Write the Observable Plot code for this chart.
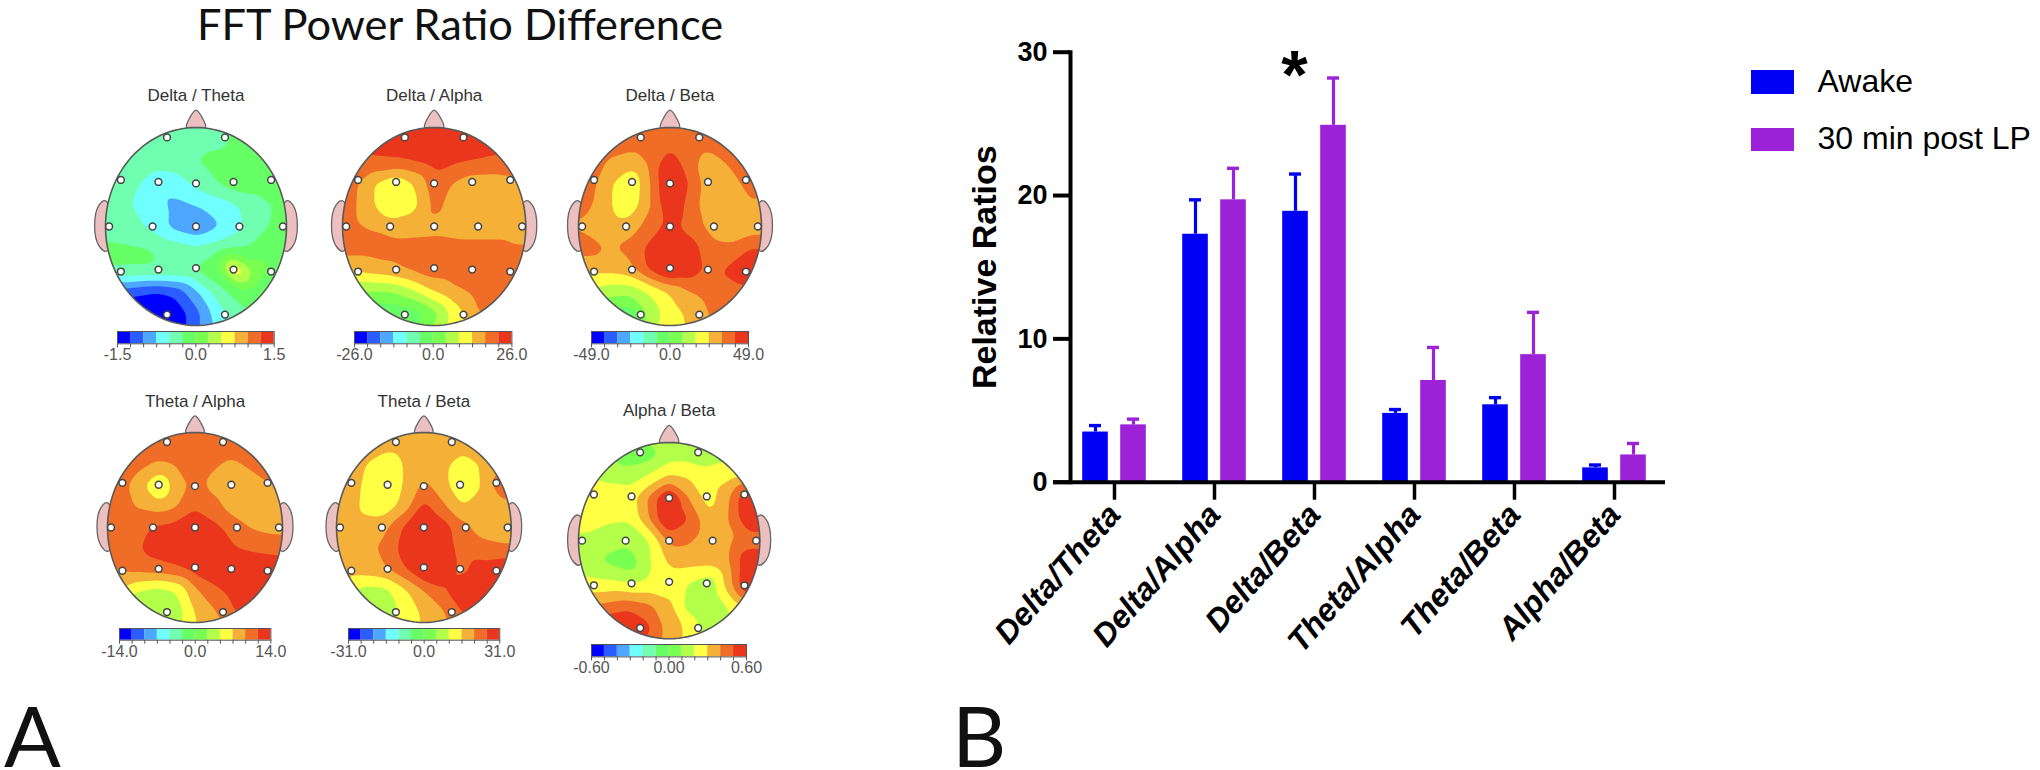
<!DOCTYPE html>
<html>
<head>
<meta charset="utf-8">
<script src="https://cdn.jsdelivr.net/npm/d3@7"></script>
<script src="https://cdn.jsdelivr.net/npm/@observablehq/plot@0.6"></script>
<style>
  html,body{margin:0;padding:0;background:#fff;}
  #page{position:relative;width:2040px;height:770px;overflow:hidden;background:#fff;}
  #page>*{position:absolute;}
  .big{font-family:Lato,sans-serif;color:#111;white-space:nowrap;line-height:.8;}
  .lg{font-family:"Liberation Sans",Arial,sans-serif;font-size:32px;line-height:1;color:#000;white-space:nowrap;}
</style>
</head>
<body>
<div id="page"></div>
<script>
// ---------- Panel B values ----------
const categories = ["Delta/Theta","Delta/Alpha","Delta/Beta","Theta/Alpha","Theta/Beta","Alpha/Beta"];
const awakeMean  = [3.5, 17.3, 18.9, 4.8, 5.4, 1.0];
const awakeTop   = [3.95, 19.7, 21.5, 5.07, 5.9, 1.2];
const postLpMean = [4.0, 19.7, 24.9, 7.1, 8.9, 1.9];
const postLpTop  = [4.4, 21.9, 28.2, 9.4, 11.85, 2.7];
const yTicks = [0, 10, 20, 30];
const seriesNames = ["Awake", "30 min post LP"];
const seriesColors = ["#0000f5", "#9b22d6"];

// ---------- Panel A values: levels on an 11 x 11 grid (top row first) ----------
const bandColors = ["#0000ff","#2a5cff","#4da6ff","#70ffff","#70ffb0","#66ff66","#78ff50","#b4ff4a","#ffff44","#f5b038","#ef6d26","#ea361c"];
const levelEdges = [-6,-5,-4,-3,-2,-1,0,1,2,3,4,5];
const gridAxis = [-1.1,-.88,-.66,-.44,-.22,0,.22,.44,.66,.88,1.1];
const electrodeX = [-.32,.32,-.83,-.415,0,.415,.83,-.96,-.48,0,.48,.96,-.83,-.415,0,.415,.83,-.32,.32];
const electrodeY = [.9,.9,.47,.45,.435,.45,.47,0,0,0,0,0,-.455,-.435,-.42,-.435,-.455,-.89,-.89];
const noseX = [-.105,-.068,0,.068,.105,0];
const noseY = [1,1.1,1.175,1.1,1,.95];
const earX = [1,1.075,1.12,1.075,.99,.9];
const earY = [.26,.21,0,-.19,-.25,0];

const deltaTheta = [
[-1.5,-1.5,-1.5,-1.5,-1.5,-1.5,-1.5,-1.2,-.8,-.7,-.7],
[-1.5,-1.5,-1.5,-1.5,-1.5,-1.5,-1.4,-.8,-.6,-.6,-.6],
[-1.5,-1.5,-1.5,-1.5,-1.5,-1.0,-.6,-.5,-.5,-.5,-.5],
[-1.5,-1.6,-1.8,-2.8,-2.5,-1.7,-1.0,-.4,-.5,-.6,-.6],
[-1.5,-1.6,-2.1,-2.8,-3.2,-3.0,-2.6,-2.1,-1.5,-.9,-.8],
[-1.5,-1.5,-1.7,-2.5,-3.4,-3.9,-3.2,-2.4,-1.4,-.8,-.7],
[-.8,-.8,-.9,-1.0,-1.4,-1.8,-1.4,-1.0,-.7,-.5,-.5],
[-1,-1,-1,-1,-1,-.9,-.2,3.2,.6,-.4,-.5],
[-4.5,-4.5,-4.8,-5.1,-4.7,-3.2,-1.6,-.6,-.4,-.5,-.5],
[-6,-6,-6,-6,-5.7,-4.4,-2.6,-1.4,-.8,-.5,-.5],
[-6,-6,-6,-6,-5.5,-4.3,-3,-2,-1,-.5,-.5]];
const deltaAlpha = [
[5.6,5.6,5.6,5.6,5.6,5.6,5.6,5.6,5.6,5.6,5.6],
[5.6,5.6,5.6,5.6,5.6,5.6,5.6,5.6,5.6,5.6,5.6],
[4.6,4.6,4.8,4.9,5.1,5.4,5.2,5.0,4.8,4.5,4.5],
[4.3,4.3,3.0,2.2,3.0,4.6,3.9,3.4,3.4,3.7,3.7],
[4.4,4.2,3.0,2.0,2.6,4.3,3.6,3.3,3.2,3.2,3.4],
[4.3,4.2,3.9,3.5,3.6,3.7,3.5,3.4,3.4,3.5,3.5],
[4.4,4.4,4.4,4.4,4.4,4.4,4.4,4.4,4.4,4.1,4.1],
[3.2,3.2,3.5,3.7,4.2,4.6,4.6,4.6,4.6,4.6,4.6],
[1.0,1.0,.9,1.0,1.8,3.0,3.8,4.2,4.5,4.5,4.5],
[-.6,-.6,-.6,-.8,-.6,.6,2.4,3.9,4.2,4.4,4.4],
[-.5,-.5,-.5,-.5,-.2,1.3,2.5,3.4,4,4.3,4.3]];
const deltaBeta = [
[4.5,4.5,4.5,4.5,4.5,4.5,4.5,4.5,4.5,4.5,4.5],
[4.5,4.5,4.5,4.5,4.5,4.5,4.5,4.5,4.5,4.5,4.5],
[4.5,4.5,3.9,3.6,4.2,5.7,4.3,3.6,4.2,4.5,4.5],
[4.4,4.4,3.2,2.0,3.9,6.3,4.9,3.3,3.6,4.4,4.4],
[4.2,4.2,3.1,2.2,3.9,5.9,4.6,3.2,3.3,3.9,3.6],
[4.0,3.7,3.4,3.5,4.4,5.4,4.5,3.7,3.4,3.4,3.4],
[4.4,4.4,3.9,4.3,5.3,6.3,5.6,4.3,4.2,5.0,5.0],
[3.3,3.3,3.3,3.6,5.2,6.3,5.8,4.6,5.3,6.2,5.5],
[2.0,2.0,1.4,1.3,2.1,3.1,4.0,4.4,4.4,4.5,4.5],
[-.3,-.3,-.3,-.9,1.3,2.5,3.2,4.1,4.4,4.5,4.5],
[0,0,0,0,1.8,2.6,3.0,4,4.4,4.5,4.5]];
const thetaAlpha = [
[4.5,4.5,4.5,4.5,4.5,4.5,4.5,4.5,4.5,4.5,4.5],
[4.5,4.5,4.5,4.5,4.5,4.5,4.5,4.5,4.5,4.5,4.5],
[4.5,4.5,4.2,3.9,4.1,4.5,4.1,3.8,4.2,4.5,4.5],
[4.4,4.4,3.6,1.8,3.4,4.3,3.7,3.4,3.6,4.0,4.2],
[4.4,4.4,3.9,3.5,3.9,4.9,4.3,3.5,3.3,3.3,3.3],
[4.4,4.4,4.6,5.2,5.4,5.8,5.3,4.6,3.9,3.7,3.7],
[4.4,4.4,4.9,5.5,5.8,6,5.6,5.1,4.8,4.6,4.5],
[4.0,4.0,4.3,4.5,4.8,5.4,5.8,6,6,5.9,5.6],
[3.0,3.0,2.0,1.6,2.0,3.8,4.7,5.4,5.8,5.8,5.6],
[.9,.9,.9,1.0,1.3,3.1,3.9,5.0,5.4,5.5,5.5],
[1.5,1.5,1.5,1.5,2,3,3.4,4.3,5,5.5,5.5]];
const thetaBeta = [
[3.5,3.5,3.5,3.5,3.5,3.5,3.5,3.5,3.5,3.5,3.5],
[3.5,3.5,3.5,3.5,3.5,3.5,3.5,3.5,3.5,3.5,3.5],
[3.5,3.5,3.0,2.2,3.1,3.5,3.3,2.4,3.1,3.5,3.5],
[3.5,3.5,2.8,2.1,3.1,4.3,3.4,2.1,3.0,4.8,3.8],
[3.5,3.5,2.7,2.4,3.4,5.4,4.2,3.0,3.4,3.6,3.6],
[3.5,3.5,3.5,3.8,5.2,6.3,5.6,4.3,3.5,3.4,3.3],
[3.5,3.5,3.8,4.2,5.5,6.3,5.6,4.6,4.4,4.2,4.2],
[3.5,3.5,3.6,3.9,4.9,6.2,5.8,4.7,5.5,5.9,5.4],
[2.5,2.5,1.6,1.7,2.8,4.0,4.9,5.9,6,5.6,5.6],
[1.0,1.0,.7,1.2,2.4,3.2,3.9,5.1,5.3,5.5,5.5],
[1.9,1.9,1.9,1.9,2.6,3.1,3.5,4.3,5,5.5,5.5]];
const alphaBeta = [
[1.5,1.5,1.5,1.5,1.5,1.5,1.5,1.6,1.8,1.8,1.8],
[1.5,1.5,1.1,.3,.5,1.4,1.5,1.6,1.7,2,2],
[1.9,1.9,1.6,1.6,2.1,3.1,2.9,2.3,2.6,2.9,2.9],
[3.0,3.0,2.7,2.4,4.2,6.5,3.9,2.5,3.9,6.2,6],
[3.0,3.0,2.2,2.1,4.0,6.4,5.0,3.2,4.0,6,6],
[1.5,1.4,1.2,1.2,1.9,4.3,4.2,3.3,3.8,4.4,4.3],
[1.3,1.2,.8,.3,1.9,3.2,3.3,3.3,3.9,6,6],
[2.4,2.4,2.3,2.0,2.3,2.4,1.9,1.2,3.6,6.5,6],
[4.0,4.0,4.3,4.6,4.2,3.3,1.4,.9,2.1,3.3,3.3],
[5.5,5.5,6,6.4,5.2,3.5,2.8,1.1,1.7,2,2],
[5.5,5.5,5.5,5.5,4.4,3.3,3.0,2.5,2,2,2]];

const heads = [
  {name:"Delta / Theta", grid:deltaTheta, max:1.5,  digits:1, left:105,   right:286,   top:127,   bottom:325,   barL:117.3, barR:274,   barT:331,   barB:343.3},
  {name:"Delta / Alpha", grid:deltaAlpha, max:26,   digits:1, left:341.7, right:525,   top:127,   bottom:325,   barL:354.3, barR:511.7, barT:331,   barB:343.3},
  {name:"Delta / Beta",  grid:deltaBeta,  max:49,   digits:1, left:577.7, right:760.7, top:127,   bottom:325,   barL:590.7, barR:747.7, barT:331,   barB:343.3},
  {name:"Theta / Alpha", grid:thetaAlpha, max:14,   digits:1, left:107,   right:282,   top:431.7, bottom:621.7, barL:119.3, barR:270.7, barT:628.3, barB:640},
  {name:"Theta / Beta",  grid:thetaBeta,  max:31,   digits:1, left:336,   right:510.7, top:431.7, bottom:621.7, barL:347.7, barR:499,   barT:628.3, barB:640},
  {name:"Alpha / Beta",  grid:alphaBeta,  max:0.6,  digits:2, left:577.7, right:759,   top:441.7, bottom:638,   barL:591,   barR:746,   barT:644.3, barB:656.7}
];

const page = document.getElementById("page");
function place(el, left, top){ el.style.left = left + "px"; el.style.top = top + "px"; page.appendChild(el); }
function html(cls, text, left, top, size){
  const d = document.createElement("div");
  d.className = cls; d.textContent = text;
  if (size) d.style.fontSize = size + "px";
  place(d, left, top);
  return d;
}

// ---------- Panel A ----------
const sans = '"Liberation Sans",Arial,sans-serif';
heads.forEach((h, idx) => {
  const rx = (h.right - h.left) / 2, ry = (h.bottom - h.top) / 2;
  const padX = 34, padTop = 50, padBottom = 6;
  const W = 2 * rx + 2 * padX, H = 2 * ry + padTop + padBottom;
  const samples = [];
  h.grid.forEach((row, r) => row.forEach((v, c) => samples.push({x: gridAxis[c], y: gridAxis[10 - r], v})));
  const ring = d3.range(0, 361, 3).map(a => ({x: Math.cos(a * Math.PI / 180), y: Math.sin(a * Math.PI / 180)}));
  const nose = noseX.map((x, i) => ({x, y: noseY[i]}));
  const earR = earX.map((x, i) => ({x, y: earY[i]}));
  const earL = earX.map((x, i) => ({x: -x, y: earY[i]}));
  const electrodes = electrodeX.map((x, i) => ({x, y: electrodeY[i]}));
  const organ = {x:"x", y:"y", fill:"#ecc0c0", stroke:"#666", strokeWidth:1.3, curve:"catmull-rom-closed"};
  const svg = Plot.plot({
    width: W, height: H, margin: 0,
    style: {background:"transparent", fontFamily:sans},
    x: {domain:[-1,1], range:[padX, padX + 2 * rx], axis:null},
    y: {domain:[-1,1], range:[padTop + 2 * ry, padTop], axis:null},
    color: {type:"threshold", domain: levelEdges.slice(1), range: bandColors},
    marks: [
      Plot.line(nose, organ),
      Plot.line(earL, organ),
      Plot.line(earR, organ),
      Plot.contour(samples, {
        x:"x", y:"y", fill:"v", thresholds: levelEdges,
        interpolate:"barycentric", pixelSize:1, blur:4, stroke:"none",
        render(index, scales, values, dims, ctx, next){
          const g = next(index, scales, values, dims, ctx);
          const ns = "http://www.w3.org/2000/svg";
          const cp = document.createElementNS(ns, "clipPath");
          cp.setAttribute("id", "headclip" + idx);
          const e = document.createElementNS(ns, "ellipse");
          const cx = scales.x(0), cy = scales.y(0);
          e.setAttribute("cx", cx); e.setAttribute("cy", cy);
          e.setAttribute("rx", scales.x(1) - cx); e.setAttribute("ry", cy - scales.y(1));
          cp.appendChild(e); g.appendChild(cp);
          g.setAttribute("clip-path", `url(#headclip${idx})`);
          return g;
        }
      }),
      Plot.line(ring, {x:"x", y:"y", stroke:"#5a5a5a", strokeWidth:1.6}),
      Plot.dot(electrodes, {x:"x", y:"y", r:3.4, fill:"#fff", stroke:"#444", strokeWidth:1.5}),
      Plot.text([h.name], {x:0, y:1.27, text:d=>d, lineAnchor:"bottom", fontSize:17, fill:"#333"})
    ]
  });
  place(svg, h.left - padX, h.top - padTop);

  // colour bar
  const edges = d3.range(13).map(i => -h.max + i * h.max / 6);
  const bandsData = bandColors.map((c, i) => ({x1: edges[i], x2: edges[i + 1], c}));
  const pad = 30;
  const barW = h.barR - h.barL, barH = h.barB - h.barT;
  const bar = Plot.plot({
    width: barW + 2 * pad, height: barH + 30, marginLeft: pad, marginRight: pad, marginTop: 0, marginBottom: 30,
    style: {background:"transparent", fontFamily:sans},
    x: {domain:[-h.max, h.max], axis:null},
    y: {domain:[0,1], axis:null},
    marks: [
      Plot.rect(bandsData, {x1:"x1", x2:"x2", y1:0, y2:1, fill:"c"}),
      Plot.frame({stroke:"#555", strokeWidth:1}),
      Plot.axisX({ticks: edges, tickSize:4, tickFormat:()=> "", stroke:"#555", label:null}),
      Plot.axisX({ticks:[-h.max, 0, h.max], tickSize:0, tickPadding:5, tickFormat:d=>d.toFixed(h.digits), fontSize:16, fill:"#555", label:null})
    ]
  });
  place(bar, h.barL - pad, h.barT);
});

// ---------- Panel B ----------
const rows = [];
categories.forEach((cat, i) => {
  rows.push({cat, s:0, mean: awakeMean[i], top: awakeTop[i]});
  rows.push({cat, s:1, mean: postLpMean[i], top: postLpTop[i]});
});
const bold = {fontFamily:'"Liberation Sans",Arial,sans-serif', fontWeight:"bold"};
function seriesMarks(s){
  const data = rows.filter(d => d.s === s);
  const dx = s === 0 ? -19 : 19, col = seriesColors[s];
  return [
    Plot.ruleX(data, {x:"cat", y1:"mean", y2:"top", dx, stroke:col, strokeWidth:3.2}),
    Plot.tickY(data, {x:"cat", y:"top", dx, stroke:col, strokeWidth:3.4, insetLeft:44, insetRight:44}),
    Plot.barY(data, {x:"cat", y:"mean", dx, fill:col, insetLeft:37.2, insetRight:37.2})
  ];
}
const barChart = Plot.plot({
  width:1090, height:770, marginLeft:112.5, marginRight:375, marginTop:51.7, marginBottom:288.3,
  style:{background:"transparent", fontFamily:bold.fontFamily},
  x:{domain:categories, padding:0, label:null, axis:null},
  y:{domain:[0,30], label:null, axis:null},
  marks:[
    ...seriesMarks(0), ...seriesMarks(1),
    Plot.ruleY([0], {stroke:"#000", strokeWidth:4, insetLeft:-9.5}),
    Plot.frame({anchor:"left", dx:7.5, stroke:"#000", strokeWidth:4}),
    Plot.axisY({ticks:yTicks, tickSize:17, dx:7.5, tickPadding:6, stroke:"#000", strokeWidth:4, fontSize:27, fontWeight:"bold", fill:"#000", label:null}),
    Plot.axisX({tickSize:18, stroke:"#000", strokeWidth:3.5, tickRotate:-49, tickPadding:9, fontSize:32, fontWeight:"bold", fontStyle:"italic", fill:"#000", label:null, textAnchor:"end"}),
    Plot.text(["Relative Ratios"], {frameAnchor:"left", text:d=>d, rotate:-90, dx:-78, fontSize:34, fontWeight:"bold", fill:"#000", textAnchor:"middle"}),
    Plot.text(["*"], {x:()=>"Delta/Beta", y:()=>30, text:d=>d, dx:-20, dy:-2, fontSize:68, fontWeight:"bold", fill:"#000", lineAnchor:"top"})
  ]
});
place(barChart, 950, 0);

// legend
seriesNames.forEach((name, i) => {
  const sw = document.createElement("div");
  sw.style.cssText = `width:43px;height:23.5px;background:${seriesColors[i]}`;
  place(sw, 1751, i === 0 ? 70 : 127.7);
  html("lg", name, 1817.5, i === 0 ? 65 : 122);
});

// headings
html("big", "FFT Power Ratio Difference", 197, 6, 43.4);
html("big", "A", 4, 701, 84);
html("big", "B", 952, 701, 84);
</script>
</body>
</html>
